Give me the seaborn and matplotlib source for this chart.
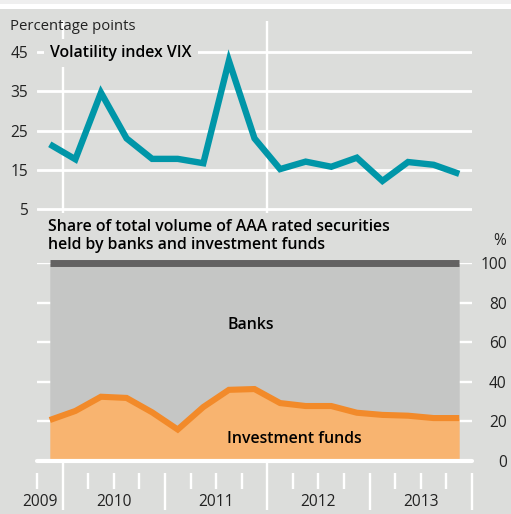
import matplotlib
matplotlib.use("Agg")
import matplotlib.pyplot as plt
import matplotlib.transforms as mtransforms
from matplotlib.patches import Rectangle
import numpy as np
import pandas as pd
import seaborn as sns

# ---- data -------------------------------------------------------------
quarters = ["2009Q4",
            "2010Q1", "2010Q2", "2010Q3", "2010Q4",
            "2011Q1", "2011Q2", "2011Q3", "2011Q4",
            "2012Q1", "2012Q2", "2012Q3", "2012Q4",
            "2013Q1", "2013Q2", "2013Q3", "2013Q4"]
vix = [21.5, 17.7, 34.6, 23.0, 17.8, 17.8, 16.7, 42.7, 23.0,
       15.2, 17.1, 15.8, 18.1, 12.2, 17.0, 16.3, 14.0]
funds_share = [20.6, 25.2, 32.4, 31.8, 24.5, 15.8, 27.2, 35.9, 36.3,
               29.2, 27.7, 27.7, 24.3, 23.2, 22.8, 21.6, 21.6]
banks_share = [100 - f for f in funds_share]
year_labels = ["2009", "2010", "2011", "2012", "2013"]
vix_ticks = [5, 15, 25, 35, 45]
share_ticks = [0, 20, 40, 60, 80, 100]
separator_years = [2010, 2012]

# quarter midpoints as decimal years
t = [int(q[:4]) + (int(q[-1]) - 1) / 4 + 0.125 for q in quarters]
df = pd.DataFrame({"t": t, "vix": vix, "funds": funds_share, "banks": banks_share})
df["top"] = df["funds"] + df["banks"]

# ---- style ------------------------------------------------------------
BG = "#dcdddb"
TEAL = "#0096a8"
ORANGE = "#f28a2a"
ORANGE_FILL = "#f8b470"
BANKS = "#c5c6c5"
DARK = "#636262"
TXT = "#222222"
BOLD_SIZE = 11.4

sns.set_style("white")
plt.rcParams["font.family"] = ["Open Sans", "DejaVu Sans"]

W, H = 511, 514
fig = plt.figure(figsize=(W / 100, H / 100), dpi=100)
fig.patch.set_facecolor(BG)
fig.add_artist(Rectangle((0, 1 - 9 / H), 1, 9 / H, transform=fig.transFigure,
                         fc="white", ec="none"))
fig.add_artist(Rectangle((0, 1 - 4 / H), 1, 4 / H, transform=fig.transFigure,
                         fc="#efefef", ec="none"))

left, right = 37 / W, 472 / W
xlim = (2009.75, 2014.0)

# ---- top panel: VIX ----------------------------------------------------
ax1 = fig.add_axes([left, 1 - 213 / H, right - left, 192 / H])
ax1.set_facecolor(BG)
for s in ax1.spines.values():
    s.set_visible(False)
ax1.set_xlim(*xlim)
ax1.set_ylim(4.06, 52.8)
ax1.set_xticks([])
ax1.set_yticks(vix_ticks)
ax1.tick_params(axis="y", length=0, pad=6.5, labelsize=11.2, labelcolor=TXT)
for v in vix_ticks:
    ax1.axhline(v, color="white", lw=2.0, zorder=1)
for x in separator_years:
    ax1.axvline(x, color="white", lw=1.7, zorder=1)

sns.lineplot(data=df, x="t", y="vix", ax=ax1, color=TEAL, lw=4.6,
             solid_capstyle="butt", solid_joinstyle="miter", zorder=3)
ax1.set_xlabel("")
ax1.set_ylabel("")

ax1.text(0.03, 0.833, "Volatility index VIX", transform=ax1.transAxes,
         ha="left", va="center", fontsize=BOLD_SIZE, fontweight="semibold",
         color="black", zorder=2,
         bbox=dict(boxstyle="square,pad=0.4", fc=BG, ec="none"))

fig.text(10 / W, 1 - 27 / H, "Percentage points", ha="left", va="center",
         fontsize=10.7, color=TXT)

# ---- bottom panel: AAA holdings shares ---------------------------------
ax2 = fig.add_axes([left, 1 - 460.7 / H, right - left, 197.4 / H])
ax2.set_facecolor(BG)
for s in ax2.spines.values():
    s.set_visible(False)
ax2.set_xlim(*xlim)
ax2.set_ylim(0, 100)

for v in share_ticks[1:]:
    ax2.axhline(v, color="white", lw=1.7, zorder=0.5)

ax2.fill_between(df["t"], 0, df["funds"], color=ORANGE_FILL, lw=0, zorder=1)
ax2.fill_between(df["t"], df["funds"], df["top"], color=BANKS, lw=0, zorder=1)
ax2.plot([df["t"].iloc[0], df["t"].iloc[-1]], [100, 100], color=DARK, lw=5.0,
         solid_capstyle="butt", zorder=2, clip_on=False)
sns.lineplot(data=df, x="t", y="funds", ax=ax2, color=ORANGE, lw=4.4,
             solid_capstyle="butt", solid_joinstyle="miter", zorder=3)
ax2.set_xlabel("")
ax2.set_ylabel("")
ax2.axhline(0, color="white", lw=3.0, zorder=4, clip_on=False)

# right-hand percentage axis
ax2.yaxis.tick_right()
ax2.set_yticks(share_ticks)
ax2.tick_params(axis="y", length=0, pad=25, labelsize=11.2, labelcolor=TXT)
for lab in ax2.get_yticklabels():
    lab.set_horizontalalignment("right")

# time axis: years as major ticks, quarters as minor ticks
ax2.spines["bottom"].set_position(("outward", 8.6))
ax2.set_xticks([int(y) + 1 for y in year_labels])
ax2.set_xticks(np.arange(2009.75, 2014.0, 0.25), minor=True)
ax2.tick_params(axis="x", which="major", bottom=True, direction="out",
                length=26.6, width=1.7, color="white", labelbottom=False)
ax2.tick_params(axis="x", which="minor", bottom=True, direction="out",
                length=11.5, width=1.7, color="white", labelbottom=False)
ax2.vlines(separator_years, -6.3, 0, color="white", lw=1.7, clip_on=False,
           zorder=4)

xtrans = mtransforms.blended_transform_factory(ax2.transData, ax2.transAxes)
for lab in year_labels:
    y0 = int(lab)
    if y0 + 0.5 < xlim[0]:
        ax2.text(y0 + 1 - 0.05, -0.209, lab, transform=xtrans, ha="right",
                 va="center", fontsize=11.2, color=TXT)
    else:
        ax2.text(y0 + 0.5, -0.209, lab, transform=xtrans, ha="center",
                 va="center", fontsize=11.2, color=TXT)

ax2.text(0.4368, 0.687, "Banks", transform=ax2.transAxes, ha="left",
         va="center", fontsize=BOLD_SIZE, fontweight="semibold",
         color="black", zorder=5)
ax2.text(0.4368, 0.110, "Investment funds", transform=ax2.transAxes,
         ha="left", va="center", fontsize=BOLD_SIZE, fontweight="semibold",
         color="black", zorder=5)

fig.text(48 / W, 1 - 227 / H, "Share of total volume of AAA rated securities",
         ha="left", va="center", fontsize=BOLD_SIZE, fontweight="semibold",
         color="black")
fig.text(48 / W, 1 - 245 / H, "held by banks and investment funds",
         ha="left", va="center", fontsize=BOLD_SIZE, fontweight="semibold",
         color="black")
fig.text(506 / W, 1 - 241 / H, "%", ha="right", va="center", fontsize=11.2,
         color=TXT)

fig.savefig("out.png", dpi=100, facecolor=BG)
